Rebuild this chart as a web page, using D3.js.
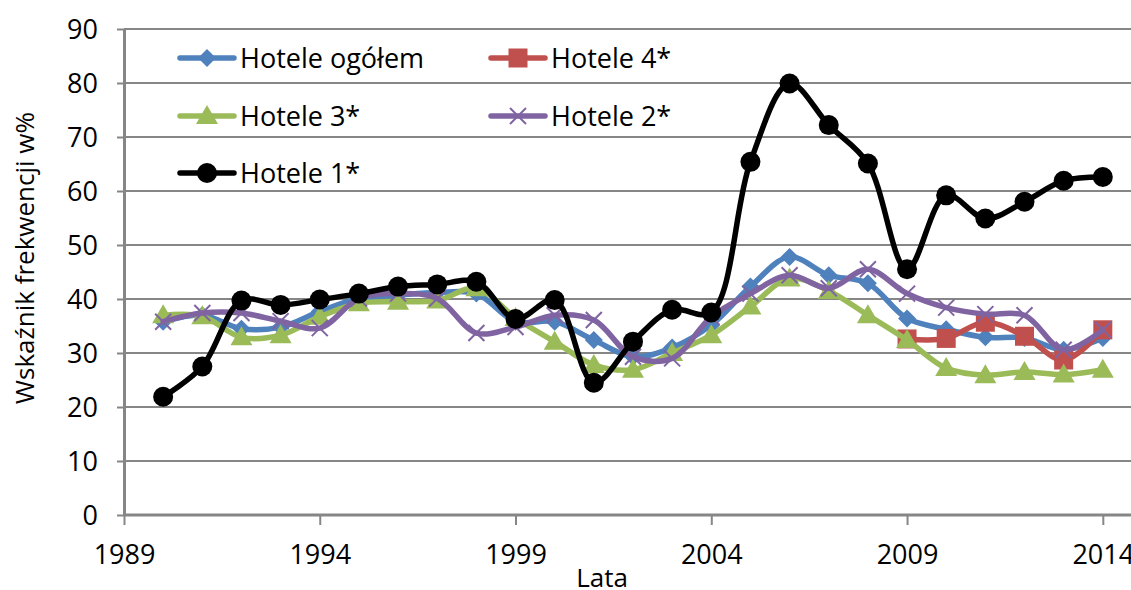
<!DOCTYPE html>
<html><head><meta charset="utf-8">
<script src="https://cdn.jsdelivr.net/npm/d3@7"></script>
<style>
html,body{margin:0;padding:0;background:#fff;overflow:hidden}
svg{display:block;font-family:"Open Sans",sans-serif}
</style></head>
<body><svg id="c" width="1131" height="590"></svg>
<script>
const years = [1990,1991,1992,1993,1994,1995,1996,1997,1998,1999,2000,2001,2002,2003,2004,2005,2006,2007,2008,2009,2010,2011,2012,2013,2014];
const hoteleOgolem = [35.8,37.0,34.5,34.8,37.7,40.1,40.7,41.2,41.0,35.8,35.8,32.4,29.3,31.0,35.2,42.3,47.8,44.4,42.9,36.4,34.4,32.9,32.8,30.6,32.8];
const hotele4 = [null,null,null,null,null,null,null,null,null,null,null,null,null,null,null,null,null,null,null,32.6,32.7,35.7,33.1,28.7,34.3];
const hotele3 = [37.0,36.8,32.9,33.3,36.7,39.2,39.5,39.7,42.0,36.5,32.1,27.8,26.9,30.0,33.3,38.6,43.8,41.5,37.0,32.4,27.2,25.9,26.5,26.0,26.9];
const hotele2 = [35.8,37.4,37.4,35.9,34.6,40.1,41.0,40.1,33.7,34.8,37.0,36.1,29.3,29.0,36.7,41.0,44.4,42.0,45.5,41.0,38.4,37.2,37.0,30.6,34.3];
const hotele1 = [21.9,27.5,39.7,38.9,39.9,41.0,42.3,42.7,43.2,36.3,39.8,24.5,32.1,38.0,37.5,65.4,79.9,72.2,65.1,45.5,59.2,54.9,58.0,61.9,62.6];
const seriesNames = ["Hotele ogółem","Hotele 4*","Hotele 3*","Hotele 2*","Hotele 1*"];
const seriesColors = ["#4F81BD","#C0504D","#9BBB59","#8064A2","#000000"];
const seriesMarkers = ["diamond","square","triangle","cross","circle"];
const xTicks = [1989,1994,1999,2004,2009,2014];
const yTicks = [0,10,20,30,40,50,60,70,80,90];
const xTitle = "Lata";
const yTitle = "Wskaźnik frekwencji w%";

const seriesValues = [hoteleOgolem, hotele4, hotele3, hotele2, hotele1];
const svg = d3.select("#c");
const W = 1131;
const x = d3.scaleLinear().domain([1989, 2014.72]).range([124, 1131]);
const y = d3.scaleLinear().domain([0, 90]).range([515, 29]);
const grid = "#868686";

// gridlines
svg.append("g").selectAll("line").data(yTicks.filter(d=>d>0)).join("line")
  .attr("x1", x(1989)).attr("x2", W).attr("y1", d=>y(d)).attr("y2", d=>y(d))
  .attr("stroke", grid).attr("stroke-width", 2);

// y axis
const yAxis = svg.append("g").attr("transform", `translate(${x(1989)},0)`)
  .call(d3.axisLeft(y).tickValues(yTicks).tickSize(7).tickPadding(19).tickSizeOuter(0));
// x axis
const xAxis = svg.append("g").attr("transform", `translate(0,${y(0)})`)
  .call(d3.axisBottom(x).tickValues(xTicks).tickFormat(d3.format("d")).tickSize(10).tickPadding(20).tickSizeOuter(0));
[yAxis, xAxis].forEach(g => {
  g.select(".domain").attr("stroke", grid).attr("stroke-width", 3);
  g.selectAll(".tick line").attr("stroke", grid).attr("stroke-width", 2);
  g.selectAll(".tick text").attr("fill", "#000").style("font-size", "27px").style("font-family", '"Open Sans",sans-serif');
});
xAxis.select(".domain").attr("d", `M${x(1989)},0H${W}`);
yAxis.selectAll(".tick text").attr("dy", "0.36em");

// axis titles
svg.append("text").attr("x", 602).attr("y", 587).attr("text-anchor", "middle")
  .style("font-size", "26px").text(xTitle);
svg.append("text").attr("transform", "translate(34,258) rotate(-90)").attr("text-anchor", "middle")
  .style("font-size", "26px").text(yTitle);

function marker(g, type, color, cx, cy) {
  if (type === "diamond") {
    g.append("path").attr("d", `M${cx},${cy-9}L${cx+9},${cy}L${cx},${cy+9}L${cx-9},${cy}Z`).attr("fill", color);
  } else if (type === "square") {
    g.append("rect").attr("x", cx-9.5).attr("y", cy-9.5).attr("width", 19).attr("height", 19).attr("fill", color);
  } else if (type === "triangle") {
    g.append("path").attr("d", `M${cx},${cy-11}L${cx+11},${cy+8}L${cx-11},${cy+8}Z`).attr("fill", color);
  } else if (type === "cross") {
    g.append("path").attr("d", `M${cx-8},${cy-8}L${cx+8},${cy+8}M${cx-8},${cy+8}L${cx+8},${cy-8}`)
      .attr("stroke", color).attr("stroke-width", 2).attr("fill", "none");
  } else if (type === "circle") {
    g.append("circle").attr("cx", cx).attr("cy", cy).attr("r", 10).attr("fill", color);
  }
}

const line = d3.line().defined(d => d[1] != null)
  .x(d => x(d[0])).y(d => y(d[1])).curve(d3.curveCatmullRom.alpha(0.5));

seriesValues.forEach((vals, i) => {
  const g = svg.append("g");
  const pts = years.map((yr, j) => [yr, vals[j]]);
  g.append("path").datum(pts).attr("d", line).attr("fill", "none")
    .attr("stroke", seriesColors[i]).attr("stroke-width", 5.5).attr("stroke-linejoin", "round").attr("stroke-linecap", "round");
  pts.filter(p => p[1] != null).forEach(p => marker(g, seriesMarkers[i], seriesColors[i], x(p[0]), y(p[1])));
});

// legend
const legPos = [[180,58],[491,58],[180,116],[491,116],[180,173]];
seriesNames.forEach((name, i) => {
  const [lx, ly] = legPos[i];
  const g = svg.append("g");
  g.append("line").attr("x1", lx).attr("x2", lx+54).attr("y1", ly).attr("y2", ly)
    .attr("stroke", seriesColors[i]).attr("stroke-width", 5.5).attr("stroke-linecap", "round");
  marker(g, seriesMarkers[i], seriesColors[i], lx+27, ly);
  g.append("text").attr("x", lx+60).attr("y", ly).attr("dy", "0.36em")
    .style("font-size", "27px").text(name);
});
</script></body></html>
